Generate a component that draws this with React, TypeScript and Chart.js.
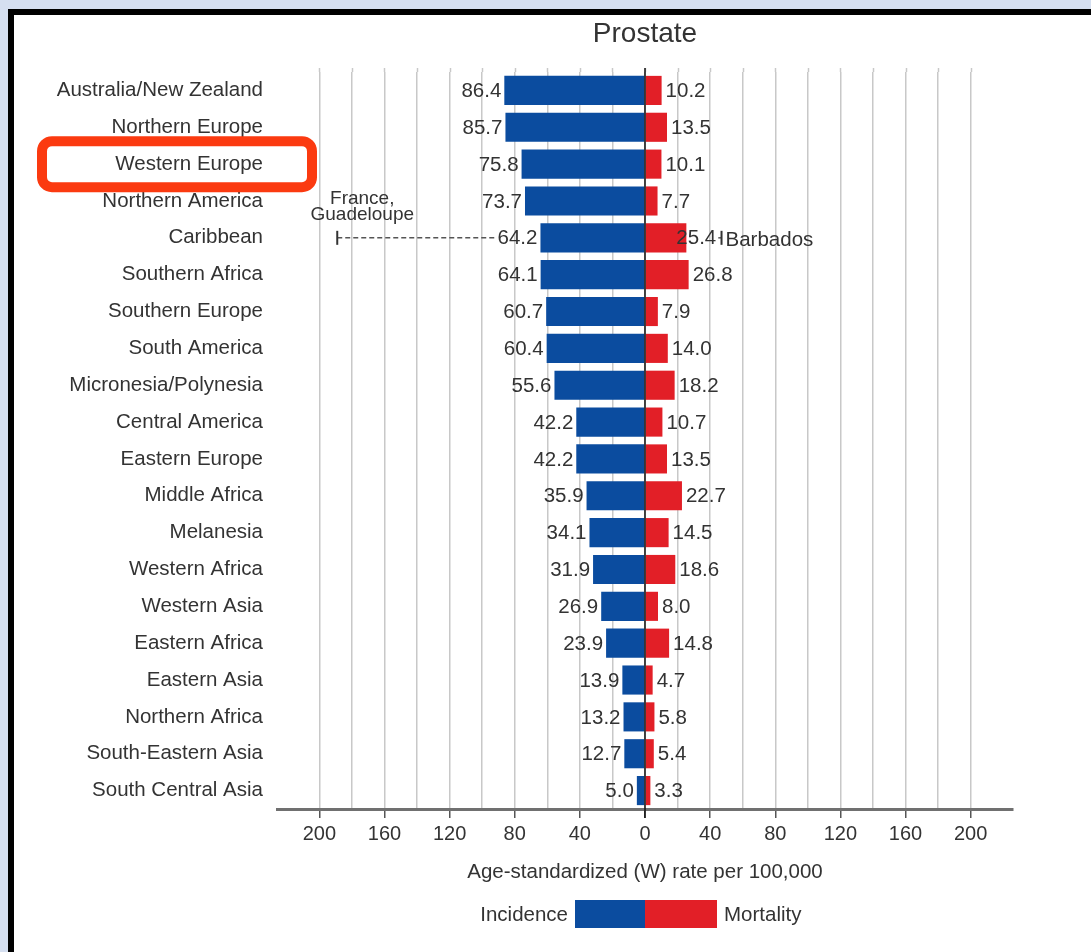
import { useEffect, useRef } from 'react';
import { Chart, registerables } from 'chart.js';

Chart.register(...registerables);

const categories = [
  'Australia/New Zealand', 'Northern Europe', 'Western Europe', 'Northern America', 'Caribbean',
  'Southern Africa', 'Southern Europe', 'South America', 'Micronesia/Polynesia', 'Central America',
  'Eastern Europe', 'Middle Africa', 'Melanesia', 'Western Africa', 'Western Asia',
  'Eastern Africa', 'Eastern Asia', 'Northern Africa', 'South-Eastern Asia', 'South Central Asia',
];
const incidence = [86.4, 85.7, 75.8, 73.7, 64.2, 64.1, 60.7, 60.4, 55.6, 42.2, 42.2, 35.9, 34.1, 31.9, 26.9, 23.9, 13.9, 13.2, 12.7, 5.0];
const mortality = [10.2, 13.5, 10.1, 7.7, 25.4, 26.8, 7.9, 14.0, 18.2, 10.7, 13.5, 22.7, 14.5, 18.6, 8.0, 14.8, 4.7, 5.8, 5.4, 3.3];

const tickValues = [-200, -180, -160, -140, -120, -100, -80, -60, -40, -20, 0, 20, 40, 60, 80, 100, 120, 140, 160, 180, 200];
const labelEvery = 40;
const axisLimit = 226;

const rangeRow = 'Caribbean';
const rangeIncidenceHigh = 189;
const rangeIncidenceHighName = ['France,', 'Guadeloupe'];
const rangeMortalityHigh = 47;
const rangeMortalityHighName = 'Barbados';

const highlighted = 'Western Europe';

const TITLE = 'Prostate';
const X_TITLE = 'Age-standardized (W) rate per 100,000';

const BLUE = '#0b4c9f';
const RED = '#e21f27';
const TEXT = '#333333';
const FONT = '"Liberation Sans", Arial, Helvetica, sans-serif';

const overlay = {
  id: 'overlay',
  beforeDatasetsDraw(chart: any) {
    const { ctx, chartArea, scales } = chart;
    const xs = scales.x;
    ctx.save();
    ctx.strokeStyle = '#c8c8c8';
    ctx.lineWidth = 1.5;
    tickValues.forEach((v) => {
      const x = Math.round(xs.getPixelForValue(v)) + 0.5;
      ctx.beginPath();
      ctx.moveTo(x, chartArea.top - 4);
      ctx.lineTo(x, chartArea.top);
      ctx.stroke();
    });
    ctx.restore();
  },
  afterDatasetsDraw(chart: any) {
    const { ctx, chartArea, scales } = chart;
    const xs = scales.x;
    const ys = scales.y;
    const x0 = xs.getPixelForValue(0);
    ctx.save();
    ctx.strokeStyle = '#111';
    ctx.lineWidth = 1.5;
    ctx.beginPath();
    ctx.moveTo(x0, chartArea.top - 4);
    ctx.lineTo(x0, chartArea.bottom + 9);
    ctx.stroke();

    ctx.font = `20.5px ${FONT}`;
    ctx.fillStyle = TEXT;
    ctx.textBaseline = 'middle';
    categories.forEach((c, i) => {
      const y = ys.getPixelForValue(i) + 1;
      const xi = xs.getPixelForValue(-incidence[i]);
      ctx.textAlign = 'right';
      ctx.fillText(incidence[i].toFixed(1), xi - 3, y);
      const xm = xs.getPixelForValue(mortality[i]);
      ctx.textAlign = 'left';
      const shift = c === rangeRow ? -10 : 4;
      ctx.fillText(mortality[i].toFixed(1), xm + shift, y);
    });

    const ri = categories.indexOf(rangeRow);
    const yr = ys.getPixelForValue(ri);
    const xlo = xs.getPixelForValue(-rangeIncidenceHigh);
    const lblW = ctx.measureText(incidence[ri].toFixed(1)).width;
    const xiEnd = xs.getPixelForValue(-incidence[ri]) - 3 - lblW - 3;
    ctx.strokeStyle = '#555';
    ctx.lineWidth = 1.5;
    ctx.setLineDash([5, 3]);
    ctx.beginPath();
    ctx.moveTo(xlo, yr);
    ctx.lineTo(xiEnd, yr);
    ctx.stroke();
    const xm0 = xs.getPixelForValue(mortality[ri]) - 10 + ctx.measureText(mortality[ri].toFixed(1)).width + 2;
    const xhi = xs.getPixelForValue(rangeMortalityHigh);
    ctx.beginPath();
    ctx.moveTo(xm0, yr);
    ctx.lineTo(xhi, yr);
    ctx.stroke();
    ctx.setLineDash([]);
    ctx.strokeStyle = '#333';
    ctx.lineWidth = 2;
    [xlo, xhi].forEach((x) => {
      ctx.beginPath();
      ctx.moveTo(x, yr - 7);
      ctx.lineTo(x, yr + 7);
      ctx.stroke();
    });
    ctx.textBaseline = 'alphabetic';
    ctx.font = `19px ${FONT}`;
    ctx.textAlign = 'center';
    ctx.fillText(rangeIncidenceHighName[0], xlo + 25, yr - 34);
    ctx.fillText(rangeIncidenceHighName[1], xlo + 25, yr - 18);
    ctx.textAlign = 'left';
    ctx.font = `20.5px ${FONT}`;
    ctx.fillText(rangeMortalityHighName, xhi + 4, yr + 8);
    ctx.restore();
  },
  afterDraw(chart: any) {
    const { ctx, chartArea, scales } = chart;
    const cx = (chartArea.left + chartArea.right) / 2;
    ctx.save();
    ctx.fillStyle = TEXT;
    ctx.textAlign = 'center';
    ctx.textBaseline = 'alphabetic';
    ctx.font = `28px ${FONT}`;
    ctx.fillText(TITLE, cx, 42);
    ctx.font = `20.5px ${FONT}`;
    ctx.fillText(X_TITLE, cx, 878);

    const ly = 900;
    ctx.fillStyle = BLUE;
    ctx.fillRect(cx - 70, ly, 70, 28);
    ctx.fillStyle = RED;
    ctx.fillRect(cx, ly, 72, 28);
    ctx.fillStyle = TEXT;
    ctx.textAlign = 'right';
    ctx.fillText('Incidence', cx - 77, ly + 21);
    ctx.textAlign = 'left';
    ctx.fillText('Mortality', cx + 79, ly + 21);

    const hy = scales.y.getPixelForValue(categories.indexOf(highlighted));
    ctx.strokeStyle = '#fb3a10';
    ctx.lineWidth = 10;
    ctx.beginPath();
    ctx.roundRect(42, hy - 23, 270, 46, 10);
    ctx.stroke();
    ctx.restore();
  },
};

export default function App() {
  const ref = useRef<HTMLCanvasElement | null>(null);
  useEffect(() => {
    if (!ref.current) return;
    const chart = new Chart(ref.current, {
      type: 'bar',
      data: {
        labels: categories,
        datasets: [
          { label: 'Incidence', data: incidence.map((v) => -v), backgroundColor: BLUE, stack: 's', barPercentage: 0.79, categoryPercentage: 1 },
          { label: 'Mortality', data: mortality, backgroundColor: RED, stack: 's', barPercentage: 0.79, categoryPercentage: 1 },
        ],
      },
      options: {
        indexAxis: 'y',
        responsive: false,
        maintainAspectRatio: false,
        animation: false,
        layout: { padding: { top: 72, right: 78, left: 0, bottom: 0 } },
        plugins: { legend: { display: false }, title: { display: false }, tooltip: { enabled: false } },
        scales: {
          x: {
            type: 'linear',
            min: -axisLimit,
            max: axisLimit,
            stacked: true,
            afterBuildTicks: (s: any) => { s.ticks = tickValues.map((v) => ({ value: v })); },
            afterFit: (s: any) => { s.height = 143; },
            ticks: {
              autoSkip: false,
              maxRotation: 0,
              padding: 4,
              color: TEXT,
              font: { family: FONT, size: 20 },
              callback: (v: any) => (Math.abs(v) % labelEvery === 0 ? String(Math.abs(v)) : ''),
            },
            grid: {
              color: '#c8c8c8',
              lineWidth: 1.5,
              tickLength: 9,
              tickWidth: 1.5,
              tickColor: (c: any) => (c.tick && Math.abs(c.tick.value) % labelEvery === 0 ? '#555' : 'rgba(0,0,0,0)'),
            },
            border: { display: true, color: '#707070', width: 3 },
          },
          y: {
            stacked: true,
            afterFit: (s: any) => { s.width = 277; },
            grid: { display: false },
            border: { display: false },
            ticks: { autoSkip: false, padding: 6, color: TEXT, font: { family: FONT, size: 20.5 } },
          },
        },
      },
      plugins: [overlay],
    } as any);
    return () => chart.destroy();
  }, []);

  return (
    <div style={{ position: 'fixed', left: 0, top: 0, width: 1091, height: 952, background: '#d5dff0', overflow: 'hidden' }}>
      <div style={{ position: 'absolute', left: 8, top: 9, right: 0, bottom: 0, background: '#fff', borderLeft: '6px solid #000', borderTop: '6px solid #000' }} />
      <canvas ref={ref} width={1091} height={952} style={{ position: 'absolute', left: 0, top: 0, width: 1091, height: 952 }} />
    </div>
  );
}
